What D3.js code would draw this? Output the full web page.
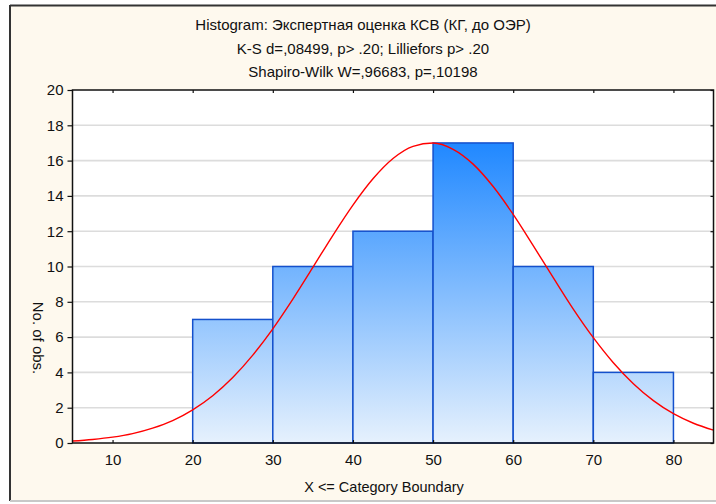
<!DOCTYPE html>
<html>
<head>
<meta charset="utf-8">
<script src="https://cdn.jsdelivr.net/npm/d3@7"></script>
<style>
  body { margin: 0; background: #ffffff; }
  text { font-family: "Liberation Sans", Arial, sans-serif; fill: #111; }
</style>
</head>
<body>
<div id="wrapper"></div>
<script>
// data
const binLower = [20, 30, 40, 50, 60, 70]
const binUpper = [30, 40, 50, 60, 70, 80]
const counts = [7, 10, 12, 17, 10, 4]
const xTicks = [10, 20, 30, 40, 50, 60, 70, 80]
const yTicks = [0, 2, 4, 6, 8, 10, 12, 14, 16, 18, 20]
const curveX = [5, 7.5, 10, 12.5, 15, 17.5, 20, 22.5, 25, 27.5, 30, 32.5, 35, 37.5, 40, 42.5, 45,
  47.5, 50, 52.5, 55, 57.5, 60, 62.5, 65, 67.5, 70, 72.5, 75, 77.5, 80, 82.5, 85]
const curveY = [0.11, 0.2, 0.33, 0.53, 0.84, 1.27, 1.88, 2.68, 3.71, 4.98, 6.47, 8.15, 9.95, 11.77, 13.48, 14.97, 16.12,
  16.81, 17.0, 16.64, 15.8, 14.53, 12.95, 11.18, 9.37, 7.59, 5.97, 4.55, 3.36, 2.4, 1.66, 1.12, 0.73]
const titleLines = [
  "Histogram: Экспертная оценка КСВ (КГ, до ОЭР)",
  "K-S d=,08499, p> .20; Lilliefors p> .20",
  "Shapiro-Wilk W=,96683, p=,10198"
]

const width = 716
const height = 504
const plot = { left: 72.5, right: 713.5, top: 90, bottom: 443 }

const svg = d3.select("#wrapper").append("svg")
  .attr("width", width)
  .attr("height", height)

// frame
svg.append("rect")
  .attr("x", 10).attr("y", 6).attr("width", width).attr("height", 494)
  .attr("fill", "#fef9ee")
svg.append("line").attr("x1", 10).attr("x2", width).attr("y1", 5.5).attr("y2", 5.5)
  .attr("stroke", "#333").attr("stroke-width", 2)
svg.append("line").attr("x1", 10).attr("x2", 10).attr("y1", 5).attr("y2", 501)
  .attr("stroke", "#333").attr("stroke-width", 2)
svg.append("line").attr("x1", 10).attr("x2", width).attr("y1", 501).attr("y2", 501)
  .attr("stroke", "#c8c8c8").attr("stroke-width", 2)

// scales
const xScale = d3.scaleLinear().domain([5, 85]).range([plot.left, plot.right])
const yScale = d3.scaleLinear().domain([0, 20]).range([plot.bottom, plot.top])

// plot background
svg.append("rect")
  .attr("x", plot.left).attr("y", plot.top)
  .attr("width", plot.right - plot.left).attr("height", plot.bottom - plot.top)
  .attr("fill", "#ffffff")

// grid
svg.append("g").selectAll("line")
  .data(yTicks.filter(d => d > 0 && d < 20))
  .join("line")
  .attr("x1", plot.left).attr("x2", plot.right)
  .attr("y1", d => yScale(d)).attr("y2", d => yScale(d))
  .attr("stroke", "#dcdcdc").attr("stroke-width", 1.6)

// gradient for bars
const grad = svg.append("defs").append("linearGradient")
  .attr("id", "barGrad")
  .attr("gradientUnits", "userSpaceOnUse")
  .attr("x1", 0).attr("x2", 0)
  .attr("y1", yScale(d3.max(counts))).attr("y2", yScale(0))
grad.append("stop").attr("offset", "0%").attr("stop-color", "#2088ff")
grad.append("stop").attr("offset", "100%").attr("stop-color", "#e6f1fd")

// bars
svg.append("g").selectAll("rect")
  .data(counts)
  .join("rect")
  .attr("x", (d, i) => xScale(binLower[i]))
  .attr("y", d => yScale(d))
  .attr("width", (d, i) => xScale(binUpper[i]) - xScale(binLower[i]))
  .attr("height", d => yScale(0) - yScale(d))
  .attr("fill", "url(#barGrad)")
  .attr("stroke", "#1450cc")
  .attr("stroke-width", 1.5)

// normal curve
const line = d3.line()
  .x((d, i) => xScale(curveX[i]))
  .y(d => yScale(d))
  .curve(d3.curveMonotoneX)
svg.append("path")
  .datum(curveY)
  .attr("d", line)
  .attr("fill", "none")
  .attr("stroke", "#ff0000")
  .attr("stroke-width", 1.4)

// plot border
svg.append("rect")
  .attr("x", plot.left).attr("y", plot.top)
  .attr("width", plot.right - plot.left).attr("height", plot.bottom - plot.top)
  .attr("fill", "none").attr("stroke", "#111").attr("stroke-width", 1.5)

// axes
const yAxis = svg.append("g")
  .attr("transform", `translate(${plot.left},0)`)
  .call(d3.axisLeft(yScale).tickValues(yTicks).tickSize(5).tickPadding(4))
const xAxis = svg.append("g")
  .attr("transform", `translate(0,${plot.bottom})`)
  .call(d3.axisBottom(xScale).tickValues(xTicks).tickSize(-3).tickPadding(11))
const topAxis = svg.append("g")
  .attr("transform", `translate(0,${plot.top})`)
  .call(d3.axisTop(xScale).tickValues(xTicks).tickSize(-3).tickFormat(""))
const rightAxis = svg.append("g")
  .attr("transform", `translate(${plot.right},0)`)
  .call(d3.axisRight(yScale).tickValues(yTicks).tickSize(-3).tickFormat(""))

for (const ax of [yAxis, xAxis, topAxis, rightAxis]) {
  ax.select(".domain").remove()
  ax.selectAll(".tick line").attr("stroke", "#111").attr("stroke-width", 1.2)
  ax.selectAll("text").style("font-size", "15px").attr("fill", "#111")
}

// titles
svg.append("g").selectAll("text")
  .data(titleLines)
  .join("text")
  .attr("x", 363)
  .attr("y", (d, i) => 30 + i * 23.5)
  .attr("text-anchor", "middle")
  .style("font-size", "15px")
  .text(d => d)

svg.append("text")
  .attr("x", 384).attr("y", 492)
  .attr("text-anchor", "middle")
  .style("font-size", "14.5px")
  .text("X <= Category Boundary")

svg.append("text")
  .attr("transform", "translate(33,338) rotate(90)")
  .attr("text-anchor", "middle")
  .style("font-size", "15px")
  .text("No. of obs.")
</script>
</body>
</html>
